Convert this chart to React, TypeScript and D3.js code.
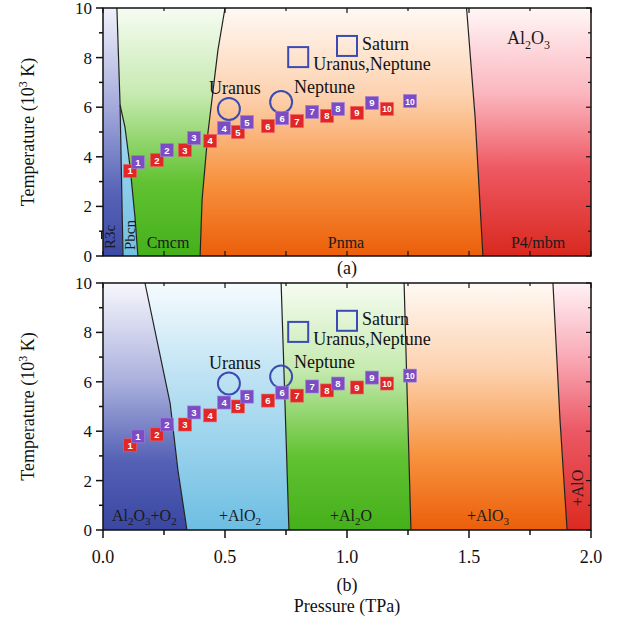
import React from "react";
import * as d3 from "d3";

// Sample points (pressure TPa, temperature 10^3 K)
const redP = [0.111, 0.221, 0.336, 0.439, 0.553, 0.676, 0.795, 0.918, 1.041, 1.164];
const redT = [3.43, 3.87, 4.27, 4.64, 5.0, 5.24, 5.44, 5.65, 5.77, 5.93];
const purpleP = [0.143, 0.262, 0.373, 0.496, 0.59, 0.734, 0.857, 0.963, 1.102, 1.258];
const purpleT = [3.79, 4.27, 4.76, 5.16, 5.4, 5.56, 5.81, 5.93, 6.17, 6.25];

// planets: circles and open squares
const circleNames = ["Uranus", "Neptune"];
const circleP = [0.516, 0.73];
const circleT = [5.93, 6.21];
const squareNames = ["Uranus,Neptune", "Saturn"];
const squareP = [0.8, 1.0];
const squareT = [8.02, 8.47];

// phase boundaries, panel (a)
const aR3cTop = [[0.057, 10], [0.07, 6.09]];
const aR3cPbcn = [[0.07, 6.09], [0.082, 0]];
const aPbcnCmcm = [[0.07, 6.09], [0.09, 5.2], [0.111, 3.59], [0.131, 1.57], [0.143, 0]];
const aCmcmPnma = [[0.5, 10], [0.471, 8.3], [0.43, 4.96], [0.406, 2.26], [0.398, 0]];
const aPnmaP4 = [[1.49, 10], [1.525, 5.6], [1.557, 0]];

// phase boundaries, panel (b)
const bB1 = [[0.172, 10], [0.275, 5.14], [0.307, 2.43], [0.344, 0]];
const bB2 = [[0.73, 10], [0.746, 5.1], [0.762, 0]];
const bB3 = [[1.234, 10], [1.248, 5.0], [1.262, 0]];
const bB4 = [[1.844, 10], [1.873, 4.45], [1.902, 0]];

const xTicks = [0, 0.5, 1.0, 1.5, 2.0];
const yTicks = [0, 2, 4, 6, 8, 10];

const W = 625, H = 624;
const x = d3.scaleLinear().domain([0, 2]).range([103, 591]);
const ya = d3.scaleLinear().domain([0, 10]).range([256, 8]);
const yb = d3.scaleLinear().domain([0, 10]).range([530, 283]);

const serif = "'Liberation Serif', 'Times New Roman', serif";

const grads: Record<string, [number, string][]> = {
  r3c: [[0, "#f0f1fb"], [0.4, "#a3aadb"], [0.75, "#5562b6"], [1, "#3d4aa5"]],
  pbcn: [[0, "#a9daf0"], [1, "#72c0e4"]],
  green: [[0, "#f6fcf2"], [0.35, "#c6eab0"], [0.7, "#62c232"], [1, "#44b01a"]],
  orange: [[0, "#fff9f4"], [0.35, "#fdd2b0"], [0.7, "#f7923e"], [1, "#ec5e0a"]],
  red: [[0, "#fff6f7"], [0.35, "#fbb5bd"], [0.65, "#ee5862"], [1, "#d9281e"]],
  blueDark: [[0, "#f7f7fc"], [0.4, "#aab0dd"], [0.72, "#5561b5"], [1, "#3a47a2"]],
  blueLight: [[0, "#f6fbfe"], [0.35, "#c2e4f4"], [1, "#6dbee3"]],
  red2: [[0, "#fff2f5"], [0.3, "#f9aab6"], [0.6, "#eb5864"], [1, "#dc2a22"]],
};

type Pt = number[];

function region(y: d3.ScaleLinear<number, number>, left: Pt[], right: Pt[]) {
  const pts = [...left, ...right.slice().reverse()];
  return d3.line<Pt>().x(d => x(d[0])).y(d => y(d[1]))(pts) + "Z";
}

function Panel({ y, tag }: { y: d3.ScaleLinear<number, number>; tag: string }) {
  const line = d3.line<Pt>().x(d => x(d[0])).y(d => y(d[1]));
  const [y0, y1] = y.range();
  const left: Pt[] = [[0, 10], [0, 0]];
  const right: Pt[] = [[2, 10], [2, 0]];
  const regions: { d: string; g: string }[] = [];
  const lines: Pt[][] = [];
  if (tag === "a") {
    regions.push({ d: region(y, left, [[0.057, 10], [0.07, 6.09], [0.082, 0]]), g: "r3c" });
    regions.push({ d: region(y, aR3cPbcn, aPbcnCmcm), g: "pbcn" });
    regions.push({ d: region(y, [...aR3cTop, ...aPbcnCmcm.slice(1)], aCmcmPnma), g: "green" });
    regions.push({ d: region(y, aCmcmPnma, aPnmaP4), g: "orange" });
    regions.push({ d: region(y, aPnmaP4, right), g: "red" });
    lines.push(aR3cTop, aR3cPbcn, aPbcnCmcm, aCmcmPnma, aPnmaP4);
  } else {
    regions.push({ d: region(y, left, bB1), g: "blueDark" });
    regions.push({ d: region(y, bB1, bB2), g: "blueLight" });
    regions.push({ d: region(y, bB2, bB3), g: "green" });
    regions.push({ d: region(y, bB3, bB4), g: "orange" });
    regions.push({ d: region(y, bB4, right), g: "red2" });
    lines.push(bB1, bB2, bB3, bB4);
  }
  const minorX = d3.range(0, 2.01, 0.25);
  const minorY = d3.range(0, 10.01, 1);
  return (
    <g>
      {regions.map((r, i) => (
        <path key={i} d={r.d} fill={`url(#g_${r.g})`} stroke="none" />
      ))}
      {lines.map((l, i) => (
        <path key={i} d={line(l)!} fill="none" stroke="#222" strokeWidth={1.2} />
      ))}
      {/* phase labels */}
      {tag === "a" ? (
        <g fontFamily={serif} fill="#1a1a1a">
          <text transform={`translate(115,237) rotate(-90)`} textAnchor="middle" fontSize={15}>
            R<tspan textDecoration="overline">3</tspan>c
          </text>
          <text transform={`translate(135,235) rotate(-90)`} textAnchor="middle" fontSize={15}>Pbcn</text>
          <text x={168} y={248} textAnchor="middle" fontSize={16}>Cmcm</text>
          <text x={346} y={248} textAnchor="middle" fontSize={16}>Pnma</text>
          <text x={538} y={248} textAnchor="middle" fontSize={16}>P4/mbm</text>
          <text x={507} y={44} fontSize={18}>
            Al<tspan fontSize={12} dy={5}>2</tspan><tspan dy={-5}>O</tspan><tspan fontSize={12} dy={5}>3</tspan>
          </text>
        </g>
      ) : (
        <g fontFamily={serif} fill="#1a1a1a" fontSize={16}>
          <text x={112} y={521}>
            Al<tspan fontSize={11} dy={4}>2</tspan><tspan dy={-4}>O</tspan><tspan fontSize={11} dy={4}>3</tspan>
            <tspan dy={-4}>+O</tspan><tspan fontSize={11} dy={4}>2</tspan>
          </text>
          <text x={219} y={521}>
            +AlO<tspan fontSize={11} dy={4}>2</tspan>
          </text>
          <text x={330} y={521}>
            +Al<tspan fontSize={11} dy={4}>2</tspan><tspan dy={-4}>O</tspan>
          </text>
          <text x={467} y={521}>
            +AlO<tspan fontSize={11} dy={4}>3</tspan>
          </text>
          <text transform={`translate(583,488) rotate(-90)`} textAnchor="middle">+AlO</text>
        </g>
      )}
      {/* planets */}
      {circleP.map((p, i) => (
        <circle key={"c" + i} cx={x(p)} cy={y(circleT[i])} r={11} fill="none" stroke="#3b4bb3" strokeWidth={2} />
      ))}
      {squareP.map((p, i) => (
        <rect key={"s" + i} x={x(p) - 10} y={y(squareT[i]) - 10} width={20} height={20} fill="none" stroke="#3b4bb3" strokeWidth={2} />
      ))}
      <g fontFamily={serif} fontSize={18} fill="#111">
        <text x={x(circleP[0]) - 20} y={y(circleT[0]) - 15}>{circleNames[0]}</text>
        <text x={x(circleP[1]) + 13} y={y(circleT[1]) - 9}>{circleNames[1]}</text>
        <text x={x(squareP[0]) + 15} y={y(squareT[0]) + 13}>{squareNames[0]}</text>
        <text x={x(squareP[1]) + 15} y={y(squareT[1]) + 4}>{squareNames[1]}</text>
      </g>
      {/* sample squares */}
      {redP.map((p, i) => (
        <g key={"r" + i} transform={`translate(${x(p)},${y(redT[i])})`}>
          <rect x={-6.5} y={-6.5} width={13} height={13} fill="#e02626" stroke="#f06060" strokeWidth={0.6} />
          <text y={3.5} textAnchor="middle" fontFamily="'Liberation Sans', Arial, sans-serif" fontWeight="bold" fontSize={i === 9 ? 8.5 : 9.5} fill="#fff">{i + 1}</text>
        </g>
      ))}
      {purpleP.map((p, i) => (
        <g key={"p" + i} transform={`translate(${x(p)},${y(purpleT[i])})`}>
          <rect x={-6.5} y={-6.5} width={13} height={13} fill="#7b4cc3" stroke="#a080dd" strokeWidth={0.6} />
          <text y={3.5} textAnchor="middle" fontFamily="'Liberation Sans', Arial, sans-serif" fontWeight="bold" fontSize={i === 9 ? 8.5 : 9.5} fill="#fff">{i + 1}</text>
        </g>
      ))}
      {/* frame */}
      <rect x={x(0)} y={y1} width={x(2) - x(0)} height={y0 - y1} fill="none" stroke="#111" strokeWidth={1.5} />
      {/* left ticks outward */}
      {minorY.map(t => (
        <line key={"ly" + t} x1={x(0)} x2={x(0) - (t % 2 === 0 ? 7 : 4)} y1={y(t)} y2={y(t)} stroke="#111" strokeWidth={1.5} />
      ))}
      {yTicks.map(t => (
        <text key={"yt" + t} x={x(0) - 11} y={y(t) + 6} textAnchor="end" fontFamily={serif} fontSize={17} fill="#111">{t}</text>
      ))}
      {/* right ticks inward */}
      {minorY.map(t => (
        <line key={"ry" + t} x1={x(2)} x2={x(2) - (t % 2 === 0 ? 5 : 3)} y1={y(t)} y2={y(t)} stroke="#111" strokeWidth={1.2} />
      ))}
      {/* top ticks inward */}
      {minorX.map(t => (
        <line key={"tx" + t} x1={x(t)} x2={x(t)} y1={y1} y2={y1 + (t % 0.5 === 0 ? 5 : 3)} stroke="#111" strokeWidth={1.2} />
      ))}
      {/* bottom ticks */}
      {tag === "a"
        ? minorX.map(t => (
            <line key={"bx" + t} x1={x(t)} x2={x(t)} y1={y0} y2={y0 - 5} stroke="#111" strokeWidth={1.2} />
          ))
        : minorX.map(t => (
            <line key={"bx" + t} x1={x(t)} x2={x(t)} y1={y0} y2={y0 + (t % 0.5 === 0 ? 8 : 5)} stroke="#111" strokeWidth={1.5} />
          ))}
      {tag === "b" &&
        xTicks.map(t => (
          <text key={"xt" + t} x={x(t)} y={y0 + 33} textAnchor="middle" fontFamily={serif} fontSize={18} fill="#111">{t.toFixed(1)}</text>
        ))}
    </g>
  );
}

export default function App() {
  return (
    <svg width={W} height={H} style={{ position: "absolute", left: 0, top: 0, background: "#fff" }}>
      <defs>
        {Object.entries(grads).map(([k, stops]) => (
          <linearGradient key={k} id={`g_${k}`} x1="0" y1="0" x2="0" y2="1">
            {stops.map(([o, c], i) => (
              <stop key={i} offset={o} stopColor={c} />
            ))}
          </linearGradient>
        ))}
      </defs>
      <Panel y={ya} tag="a" />
      <Panel y={yb} tag="b" />
      <g fontFamily={serif} fill="#111" fontSize={18}>
        <text x={347} y={274} textAnchor="middle">(a)</text>
        <text x={347} y={591} textAnchor="middle">(b)</text>
        <text x={347} y={612} textAnchor="middle">Pressure (TPa)</text>
        <text transform={`translate(34,${ya(5)}) rotate(-90)`} textAnchor="middle">
          Temperature (10<tspan fontSize={12} dy={-7}>3</tspan><tspan dy={7}> K)</tspan>
        </text>
        <text transform={`translate(34,${yb(5)}) rotate(-90)`} textAnchor="middle">
          Temperature (10<tspan fontSize={12} dy={-7}>3</tspan><tspan dy={7}> K)</tspan>
        </text>
      </g>
    </svg>
  );
}
